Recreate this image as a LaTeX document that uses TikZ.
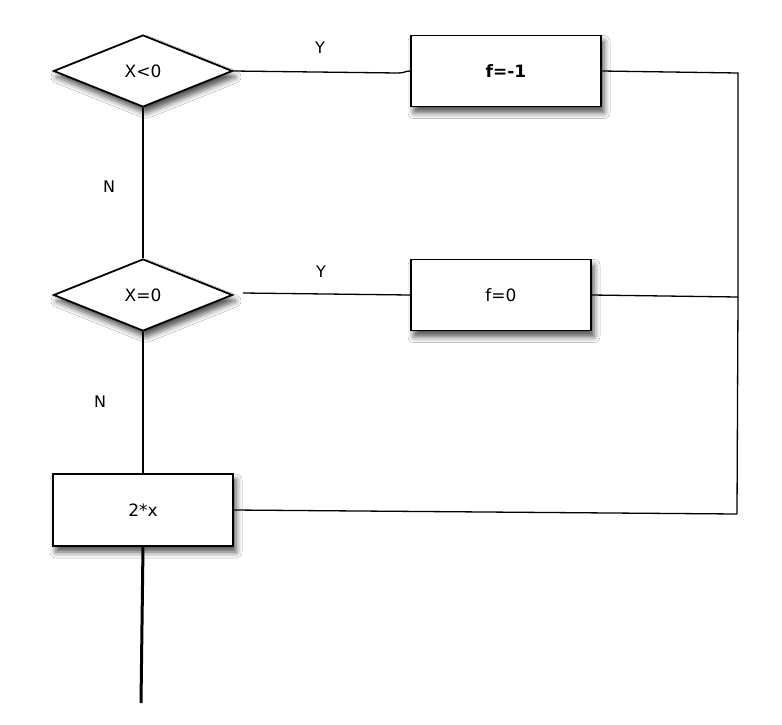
\documentclass[tikz,border=0pt]{standalone}
\usepackage{fontspec}
\setmainfont{DejaVu Sans}
\usetikzlibrary{shapes.geometric,shadows.blur}
\begin{document}
\begin{tikzpicture}[x=1pt,y=-1pt,
  font=\fontsize{17}{19}\selectfont,
  shad/.style={blur shadow={shadow xshift=3pt,shadow yshift=-6pt,shadow blur radius=6pt,shadow opacity=70}},
  decbox/.style={diamond,aspect=2.5,draw,line width=1.8pt,fill=white,minimum width=179pt,minimum height=72pt,inner sep=0pt,shad},
  procbox/.style={rectangle,draw,line width=1.8pt,fill=white,minimum height=71pt,inner sep=0pt,shad},
  conn/.style={line width=1.3pt},
  lbl/.style={font=\fontsize{16}{18}\selectfont}]
\useasboundingbox (0,0) rectangle (782,724);
\fill[white] (0,0) rectangle (782,724);
% nodes
\node[decbox] (d1) at (143,71) {X<0};
\node[decbox] (d2) at (143,295) {X=0};
\node[procbox,minimum width=190pt] (b1) at (506,71) {\textbf{f=-1}};
\node[procbox,minimum width=180pt] (b2) at (501,295) {f=0};
\node[procbox,minimum width=180pt,minimum height=72pt] (b3) at (143,510) {2*x};
\coordinate (r1) at (738,73);
\coordinate (r2) at (738,297);
\coordinate (r3) at (737,514);
\coordinate (g2) at (243,293);
\coordinate (e) at (141,703);
\coordinate (k1) at (398,73);
% connectors
\draw[conn] (d1.east) -- (k1) .. controls (405,73) and (405,71) .. (b1.west);
\draw[conn] (g2) -- (b2.west);
\draw[conn] (d1.south) -- (d2.north);
\draw[conn] (d2.south) -- (b3.north);
\draw[conn] (b1.east) -- (r1) -- (r2) -- (r3);
\draw[conn] (b2.east) -- (r2);
\draw[conn] (b3.east) -- (r3);
\draw[line width=3pt] (b3.south) -- (e);
% labels
\node[lbl] (y1) at (320,48) {Y};
\node[lbl] (y2) at (321,272) {Y};
\node[lbl] (n1) at (109,187) {N};
\node[lbl] (n2) at (100,402) {N};
\end{tikzpicture}
\end{document}
